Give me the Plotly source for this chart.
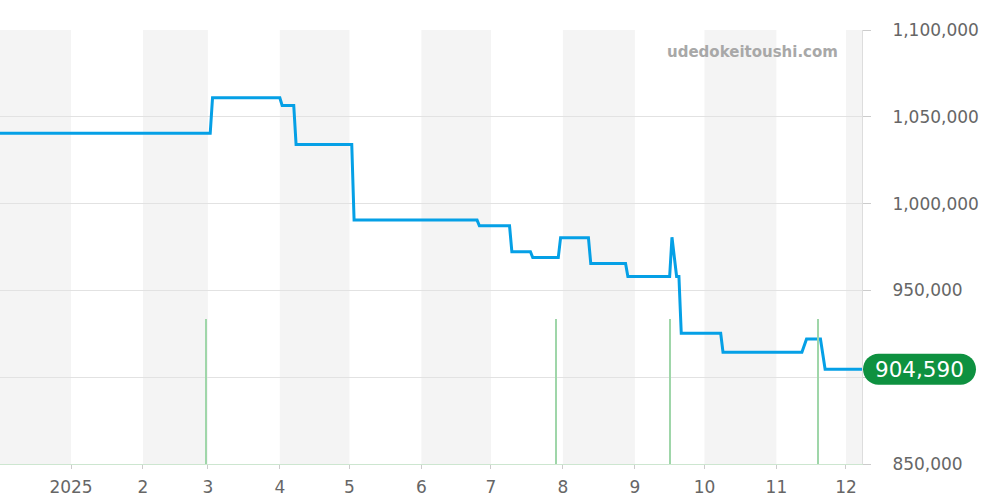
import plotly.graph_objects as go

# ---- data ----
price_dates = [
    "2024-12-01", "2025-03-02", "2025-03-03", "2025-04-01", "2025-04-02",
    "2025-04-07", "2025-04-08", "2025-05-02", "2025-05-03", "2025-06-25",
    "2025-06-26", "2025-07-09", "2025-07-10", "2025-07-18", "2025-07-19",
    "2025-07-30", "2025-07-31", "2025-08-12", "2025-08-13", "2025-08-28",
    "2025-08-29", "2025-09-16", "2025-09-17", "2025-09-19", "2025-09-20",
    "2025-09-21", "2025-10-08", "2025-10-09", "2025-11-12", "2025-11-14",
    "2025-11-20", "2025-11-22", "2025-12-08",
]
price_values = [
    1040500, 1040500, 1061000, 1061000, 1056500,
    1056500, 1034000, 1034000, 990500, 990500,
    987200, 987200, 972300, 972300, 968900,
    968900, 980400, 980400, 965500, 965500,
    958000, 958000, 980600, 958000, 958000,
    925300, 925300, 914400, 914400, 922000,
    922000, 904590, 904590,
]
volume_dates = ["2025-02-28", "2025-07-29", "2025-09-16", "2025-11-19"]
volume_values = [1, 1, 1, 1]

shaded_months = [
    ("2024-12-01", "2025-01-01"), ("2025-02-01", "2025-03-01"),
    ("2025-04-01", "2025-05-01"), ("2025-06-01", "2025-07-01"),
    ("2025-08-01", "2025-09-01"), ("2025-10-01", "2025-11-01"),
    ("2025-12-01", "2026-01-01"),
]
tick_dates = ["2025-01-01", "2025-02-01", "2025-03-01", "2025-04-01", "2025-05-01",
              "2025-06-01", "2025-07-01", "2025-08-01", "2025-09-01", "2025-10-01",
              "2025-11-01", "2025-12-01"]
tick_text = ["2025", "2", "3", "4", "5", "6", "7", "8", "9", "10", "11", "12"]
y_ticks = [850000, 900000, 950000, 1000000, 1050000, 1100000]
y_tick_text = ["850,000", "", "950,000", "1,000,000", "1,050,000", "1,100,000"]
last_price = 904590

# ---- layout constants ----
FIG_W, FIG_H = 1000, 500
M_L, M_R, M_T, M_B = 0, 138, 30, 36
PW = FIG_W - M_L - M_R
PH = FIG_H - M_T - M_B
Y_MIN, Y_MAX = 850000, 1100000
FONT = "DejaVu Sans"

fig = go.Figure()

fig.add_trace(go.Bar(
    x=volume_dates, y=volume_values, yaxis="y2",
    width=0.45 * 86400000, marker=dict(color="#9fd6a9", line=dict(width=0)),
    hoverinfo="skip", showlegend=False,
))
fig.add_trace(go.Scatter(
    x=price_dates, y=price_values, mode="lines",
    line=dict(color="#05a0e6", width=3), showlegend=False,
))

for a, b in shaded_months:
    fig.add_vrect(x0=a, x1=b, fillcolor="#f4f4f4", line_width=0, layer="below")

# rounded price badge
def pill_path(x0, x1, yc, h):
    r = h / 2
    k = 0.5523 * r
    xl, xr = x0 + r, x1 - r
    pts = [
        ("M", [(xl, yc + r)]),
        ("L", [(xr, yc + r)]),
        ("C", [(xr + k, yc + r), (xr + r, yc + k), (xr + r, yc)]),
        ("C", [(xr + r, yc - k), (xr + k, yc - r), (xr, yc - r)]),
        ("L", [(xl, yc - r)]),
        ("C", [(xl - k, yc - r), (xl - r, yc - k), (xl - r, yc)]),
        ("C", [(xl - r, yc + k), (xl - k, yc + r), (xl, yc + r)]),
    ]
    s = ""
    for cmd, ps in pts:
        s += cmd + " ".join(f"{px / PW:.5f},{py / PH:.5f}" for px, py in ps) + " "
    return s + "Z"

yc_px = (last_price - Y_MIN) / (Y_MAX - Y_MIN) * PH
fig.add_shape(type="path", xref="paper", yref="paper",
              path=pill_path(863, 976, yc_px, 31),
              fillcolor="#0e9140", line=dict(width=0), layer="above")
fig.add_annotation(xref="paper", yref="y", x=919.5 / PW, y=last_price,
                   text=f"{last_price:,}", showarrow=False,
                   font=dict(family=FONT, size=21.5, color="white"),
                   xanchor="center", yanchor="middle")
fig.add_annotation(xref="paper", yref="paper", x=840 / PW, y=(PH - 22) / PH,
                   text="udedokeitoushi.com", showarrow=False,
                   font=dict(family=FONT, size=15, color="#a8a8a8", weight="bold"),
                   xanchor="right", yanchor="middle")

fig.update_layout(
    width=FIG_W, height=FIG_H,
    margin=dict(l=M_L, r=M_R, t=M_T, b=M_B),
    paper_bgcolor="white", plot_bgcolor="white",
    font=dict(family=FONT, color="#666666"),
    bargap=0,
    xaxis=dict(
        type="date", range=["2024-12-01 09:36", "2025-12-07 21:36"],
        tickvals=tick_dates, ticktext=tick_text,
        tickfont=dict(size=17, color="#666666"),
        ticks="outside", ticklen=4, tickcolor="#cccccc",
        showgrid=False, showline=True, linecolor="#cde6d0", linewidth=1,
        zeroline=False, ticklabelstandoff=4,
    ),
    yaxis=dict(
        side="right", range=[Y_MIN, Y_MAX], tickvals=y_ticks,
        ticktext=y_tick_text, tickfont=dict(size=17, color="#666666"),
        ticks="outside", ticklen=8, tickcolor="#cccccc",
        showgrid=True, gridcolor="#e2e2e2", gridwidth=1,
        showline=True, linecolor="#dddddd", zeroline=False,
        ticklabelstandoff=18,
    ),
    yaxis2=dict(overlaying="y", range=[0, 3], visible=False),
)

fig.write_html("out.html", config={"displayModeBar": False},
               post_script="document.body.style.margin='0px';document.body.style.overflow='hidden';")
